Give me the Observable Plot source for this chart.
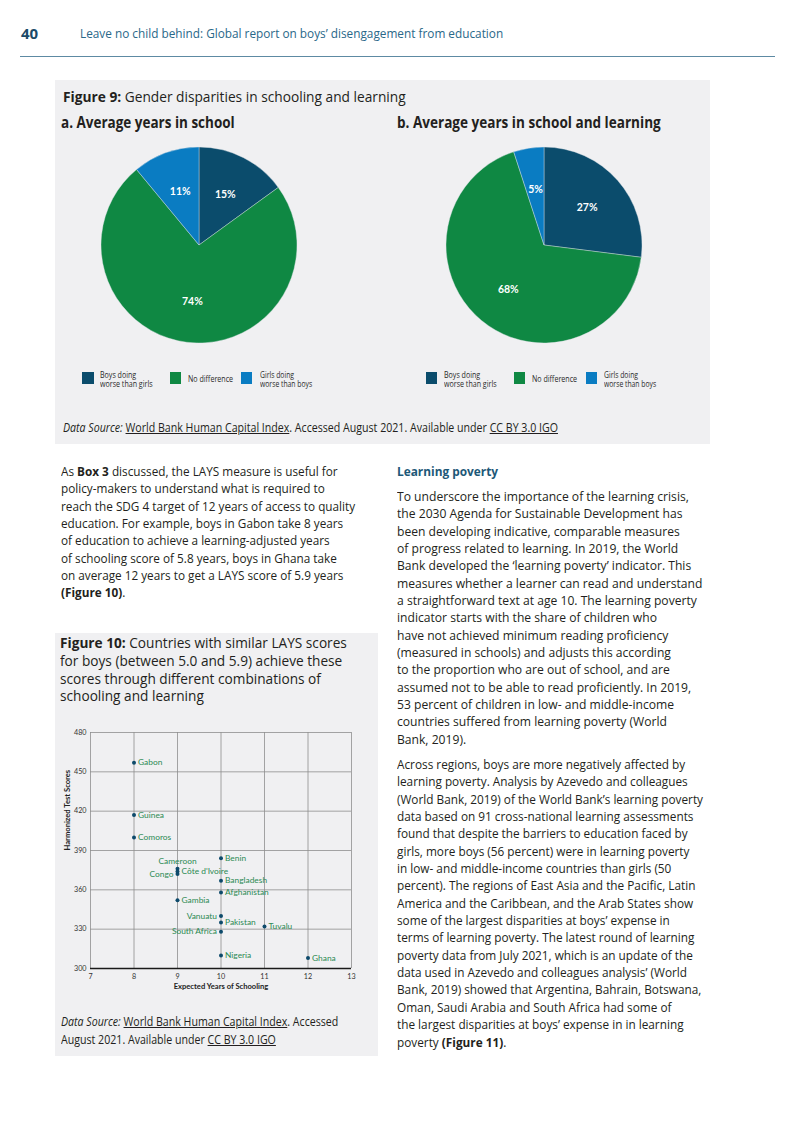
<!DOCTYPE html>
<html>
<head>
<meta charset="utf-8">
<script src="https://cdn.jsdelivr.net/npm/d3@7"></script>
<script src="https://cdn.jsdelivr.net/npm/@observablehq/plot@0.6"></script>
<style>
  html, body { margin: 0; padding: 0; background: #fff; }
  body { width: 793px; height: 1122px; position: relative; overflow: hidden; font-family: "Open Sans", Lato, sans-serif; color: #231f20; }
  .abs { position: absolute; }
  .blk { position: absolute; white-space: nowrap; transform-origin: 0 0; }
  .panel { position: absolute; background: #f0f0f2; }
  .sw { position: absolute; width: 11.5px; height: 12px; }
  .lg { position: absolute; white-space: nowrap; font-size: 8.4px; line-height: 9.7px; color: #2a2a2a; transform-origin: 0 0; }
  u { text-decoration: underline; text-underline-offset: 1px; }
</style>
</head>
<body>
<div id="page"></div>
<script>
// ---------------- DATA ----------------
const pieCategories = ["Boys doing worse than girls", "No difference", "Girls doing worse than boys"];
const pieLegendLines = [["Boys doing", "worse than girls"], ["No difference"], ["Girls doing", "worse than boys"]];
const pieColors = ["#0b4c6c", "#0f8843", "#0a7cc2"];
const pieYearsInSchool = [15, 74, 11];
const pieSchoolAndLearning = [27, 68, 5];

const countries = ["Gabon", "Guinea", "Comoros", "Cameroon", "Côte d'Ivoire", "Congo", "Benin", "Bangladesh", "Afghanistan", "Gambia", "Vanuatu", "Pakistan", "South Africa", "Tuvalu", "Nigeria", "Ghana"];
const expectedYears = [8, 8, 8, 9, 9, 9, 10, 10, 10, 9, 10, 10, 10, 11, 10, 12];
const testScores = [457, 417, 400, 376, 374, 372, 384, 367, 358, 352, 340, 335, 328, 332, 310, 308];
const xTicks = [7, 8, 9, 10, 11, 12, 13];
const yTicks = [300, 330, 360, 390, 420, 450, 480];

// ---------------- PAGE TEXT ----------------
const page = document.getElementById("page");
function add(html, style, cls = "abs") {
  const el = document.createElement("div");
  el.className = cls;
  el.setAttribute("style", style);
  el.innerHTML = html;
  page.appendChild(el);
  return el;
}
function fit(el, w) {
  const nat = el.offsetWidth;
  if (nat > 0) el.style.transform = `scaleX(${w / nat})`;
}
const fits = [];
function block(lines, style, w) {
  const el = add(lines.map(l => `<div>${l}</div>`).join(""), style, "blk");
  if (w) fits.push([el, w]);
  return el;
}

// header
add("40", "left:21px; top:24px; font-size:15px; font-weight:bold; color:#1b4a68; line-height:18px;");
block(["Leave no child behind: Global report on boys’ disengagement from education"], "left:80px; top:25px; font-size:13.5px; line-height:16px; color:#2a6889;", 423);
add("", "left:20px; top:56px; width:755px; height:1px; background:#5d8aa3;");

// Figure 9 panel
add("", "left:55px; top:80px; width:655px; height:364px;", "panel");
block(["<b>Figure 9:</b> Gender disparities in schooling and learning"], "left:63px; top:88px; font-size:15px; line-height:17px;", 343);
block(["<b>a. Average years in school</b>"], "left:61px; top:113px; font-size:15.5px; line-height:18px;", 174);
block(["<b>b. Average years in school and learning</b>"], "left:397px; top:113px; font-size:15.5px; line-height:18px;", 264);

// legends
function legend(swx, tx) {
  pieCategories.forEach((c, i) => {
    add("", `left:${swx[i]}px; top:372px; background:${pieColors[i]};`, "sw");
    const lines = pieLegendLines[i];
    const top = lines.length === 2 ? 369.5 : 373.5;
    const el = add(lines.map(l => `<div>${l}</div>`).join(""), `left:${tx[i]}px; top:${top}px;`, "lg");
    fits.push([el, lines.length === 2 ? (i === 0 ? 52.5 : 52) : 45]);
  });
}
legend([82, 169.5, 240.5], [100, 188, 259.5]);
legend([425.5, 513.5, 585.5], [444, 532, 603.5]);

block(["<i>Data Source:</i> <u>World Bank Human Capital Index</u>. Accessed August 2021. Available under <u>CC BY 3.0 IGO</u>"],
  "left:63px; top:419px; font-size:11.8px; line-height:16px;", 495);

// left paragraph
block([
  "As <b>Box 3</b> discussed, the LAYS measure is useful for",
  "policy-makers to understand what is required to",
  "reach the SDG 4 target of 12 years of access to quality",
  "education. For example, boys in Gabon take 8 years",
  "of education to achieve a learning-adjusted years",
  "of schooling score of 5.8 years, boys in Ghana take",
  "on average 12 years to get a LAYS score of 5.9 years",
  "<b>(Figure 10)</b>."
], "left:61px; top:463px; font-size:12.8px; line-height:17.35px;", 294);

// Figure 10 panel
add("", "left:55px; top:633px; width:323px; height:423px;", "panel");
block([
  "<b>Figure 10:</b> Countries with similar LAYS scores",
  "for boys (between 5.0 and 5.9) achieve these",
  "scores through different combinations of",
  "schooling and learning"
], "left:60px; top:634px; font-size:14.8px; line-height:17.8px;", 287);
block([
  "<i>Data Source:</i> <u>World Bank Human Capital Index</u>. Accessed",
  "August 2021. Available under <u>CC BY 3.0 IGO</u>"
], "left:61px; top:1012.5px; font-size:12.2px; line-height:18.3px;", 277);

// right column
block(["<b>Learning poverty</b>"], "left:397px; top:463px; font-size:12.8px; line-height:17.35px; color:#1d5878;", 101);
block([
  "To underscore the importance of the learning crisis,",
  "the 2030 Agenda for Sustainable Development has",
  "been developing indicative, comparable measures",
  "of progress related to learning. In 2019, the World",
  "Bank developed the ‘learning poverty’ indicator. This",
  "measures whether a learner can read and understand",
  "a straightforward text at age 10. The learning poverty",
  "indicator starts with the share of children who",
  "have not achieved minimum reading proficiency",
  "(measured in schools) and adjusts this according",
  "to the proportion who are out of school, and are",
  "assumed not to be able to read proficiently. In 2019,",
  "53 percent of children in low- and middle-income",
  "countries suffered from learning poverty (World",
  "Bank, 2019)."
], "left:397px; top:488px; font-size:12.8px; line-height:17.35px;", 305);
block([
  "Across regions, boys are more negatively affected by",
  "learning poverty. Analysis by Azevedo and colleagues",
  "(World Bank, 2019) of the World Bank’s learning poverty",
  "data based on 91 cross-national learning assessments",
  "found that despite the barriers to education faced by",
  "girls, more boys (56 percent) were in learning poverty",
  "in low- and middle-income countries than girls (50",
  "percent). The regions of East Asia and the Pacific, Latin",
  "America and the Caribbean, and the Arab States show",
  "some of the largest disparities at boys’ expense in",
  "terms of learning poverty. The latest round of learning",
  "poverty data from July 2021, which is an update of the",
  "data used in Azevedo and colleagues analysis’ (World",
  "Bank, 2019) showed that Argentina, Bahrain, Botswana,",
  "Oman, Saudi Arabia and South Africa had some of",
  "the largest disparities at boys’ expense in in learning",
  "poverty <b>(Figure 11)</b>."
], "left:397px; top:756px; font-size:12.8px; line-height:17.35px;", 306);

// ---------------- PIES ----------------
function piePlot(values) {
  const data = pieCategories.map((c, i) => ({cat: c, value: values[i]}));
  const rows = d3.pie().sort(null).value(d => d.value)(data).map(a => ({
    cat: a.data.cat, value: a.data.value, start: a.startAngle, end: a.endAngle,
    mid: (a.startAngle + a.endAngle) / 2
  }));
  return Plot.plot({
    width: 196, height: 196, margin: 0,
    style: {background: "transparent", overflow: "visible"},
    x: {domain: [-1, 1], axis: null},
    y: {domain: [-1, 1], axis: null},
    color: {domain: pieCategories, range: pieColors},
    marks: [
      Plot.dot(rows, {x: 0, y: 0, r: 0, fill: "cat"}),
      (index, scales) => {
        const cx = scales.x(0), cy = scales.y(0), R = scales.x(1) - cx;
        const arc = d3.arc().innerRadius(0).outerRadius(R);
        const g = d3.create("svg:g").attr("transform", `translate(${cx},${cy})`);
        g.selectAll("path").data(rows).join("path")
          .attr("d", d => arc({startAngle: d.start, endAngle: d.end}))
          .attr("fill", d => scales.color(d.cat))
          .attr("stroke", "#dfe3e8").attr("stroke-width", 0.4);
        return g.node();
      },
      Plot.text(rows, {
        x: d => 0.58 * Math.sin(d.mid), y: d => 0.58 * Math.cos(d.mid),
        text: d => d.value + "%", fill: "white", fontWeight: "bold", fontSize: 10.5,
        fontFamily: "Lato"
      })
    ]
  });
}
function place(node, left, top) {
  const w = document.createElement("div");
  w.className = "abs";
  w.style.left = left + "px";
  w.style.top = top + "px";
  w.appendChild(node);
  page.appendChild(w);
}
place(piePlot(pieYearsInSchool), 101, 147);
place(piePlot(pieSchoolAndLearning), 446, 147);

// ---------------- SCATTER ----------------
const pts = countries.map((c, i) => ({country: c, year: expectedYears[i], score: testScores[i]}));
const leftLabeled = ["Congo", "Vanuatu", "South Africa"];
const topLabeled = ["Cameroon"];
const green = "#2b8a52";
const scatter = Plot.plot({
  width: 320, height: 270,
  marginLeft: 35, marginRight: 24, marginTop: 12, marginBottom: 22,
  style: {background: "transparent", fontSize: "7.2px", fontFamily: "Lato", color: "#333", overflow: "visible"},
  x: {domain: [7, 13], ticks: xTicks, tickFormat: "d", tickSize: 0, tickPadding: 5, label: null},
  y: {domain: [300, 480], ticks: yTicks, tickFormat: "d", tickSize: 0, tickPadding: 4, label: null},
  marks: [
    Plot.ruleX(xTicks, {stroke: "#8e8e8e", strokeWidth: 0.8}),
    Plot.ruleY(yTicks, {stroke: "#8e8e8e", strokeWidth: 0.8}),
    Plot.ruleY([300], {stroke: "#1a1a1a", strokeWidth: 1.3}),
    Plot.dot(pts, {x: "year", y: "score", r: 2, fill: "#0d4a6b"}),
    Plot.text(pts.filter(d => !leftLabeled.includes(d.country) && !topLabeled.includes(d.country)),
      {x: "year", y: "score", text: "country", textAnchor: "start", dx: 4, fill: green, fontSize: 8.4}),
    Plot.text(pts.filter(d => leftLabeled.includes(d.country)),
      {x: "year", y: "score", text: "country", textAnchor: "end", dx: -4, fill: green, fontSize: 8.4}),
    Plot.text(pts.filter(d => topLabeled.includes(d.country)),
      {x: "year", y: "score", text: "country", textAnchor: "middle", dy: -7.5, fill: green, fontSize: 8.4}),
    Plot.text(["Expected Years of Schooling"], {frameAnchor: "bottom", dy: 20, text: d => d, fontWeight: "bold", fontSize: 7.6, fill: "#222"}),
    Plot.text(["Harmonized Test Scores"], {frameAnchor: "left", dx: -23, rotate: -90, text: d => d, fontWeight: "bold", fontSize: 7.6, fill: "#222"})
  ]
});
place(scatter, 55, 720);

// ---------------- FIT TEXT WIDTHS ----------------
function applyFits() { fits.forEach(([el, w]) => { el.style.transform = ""; fit(el, w); }); }
applyFits();
if (document.fonts && document.fonts.ready) document.fonts.ready.then(applyFits);
</script>
</body>
</html>
